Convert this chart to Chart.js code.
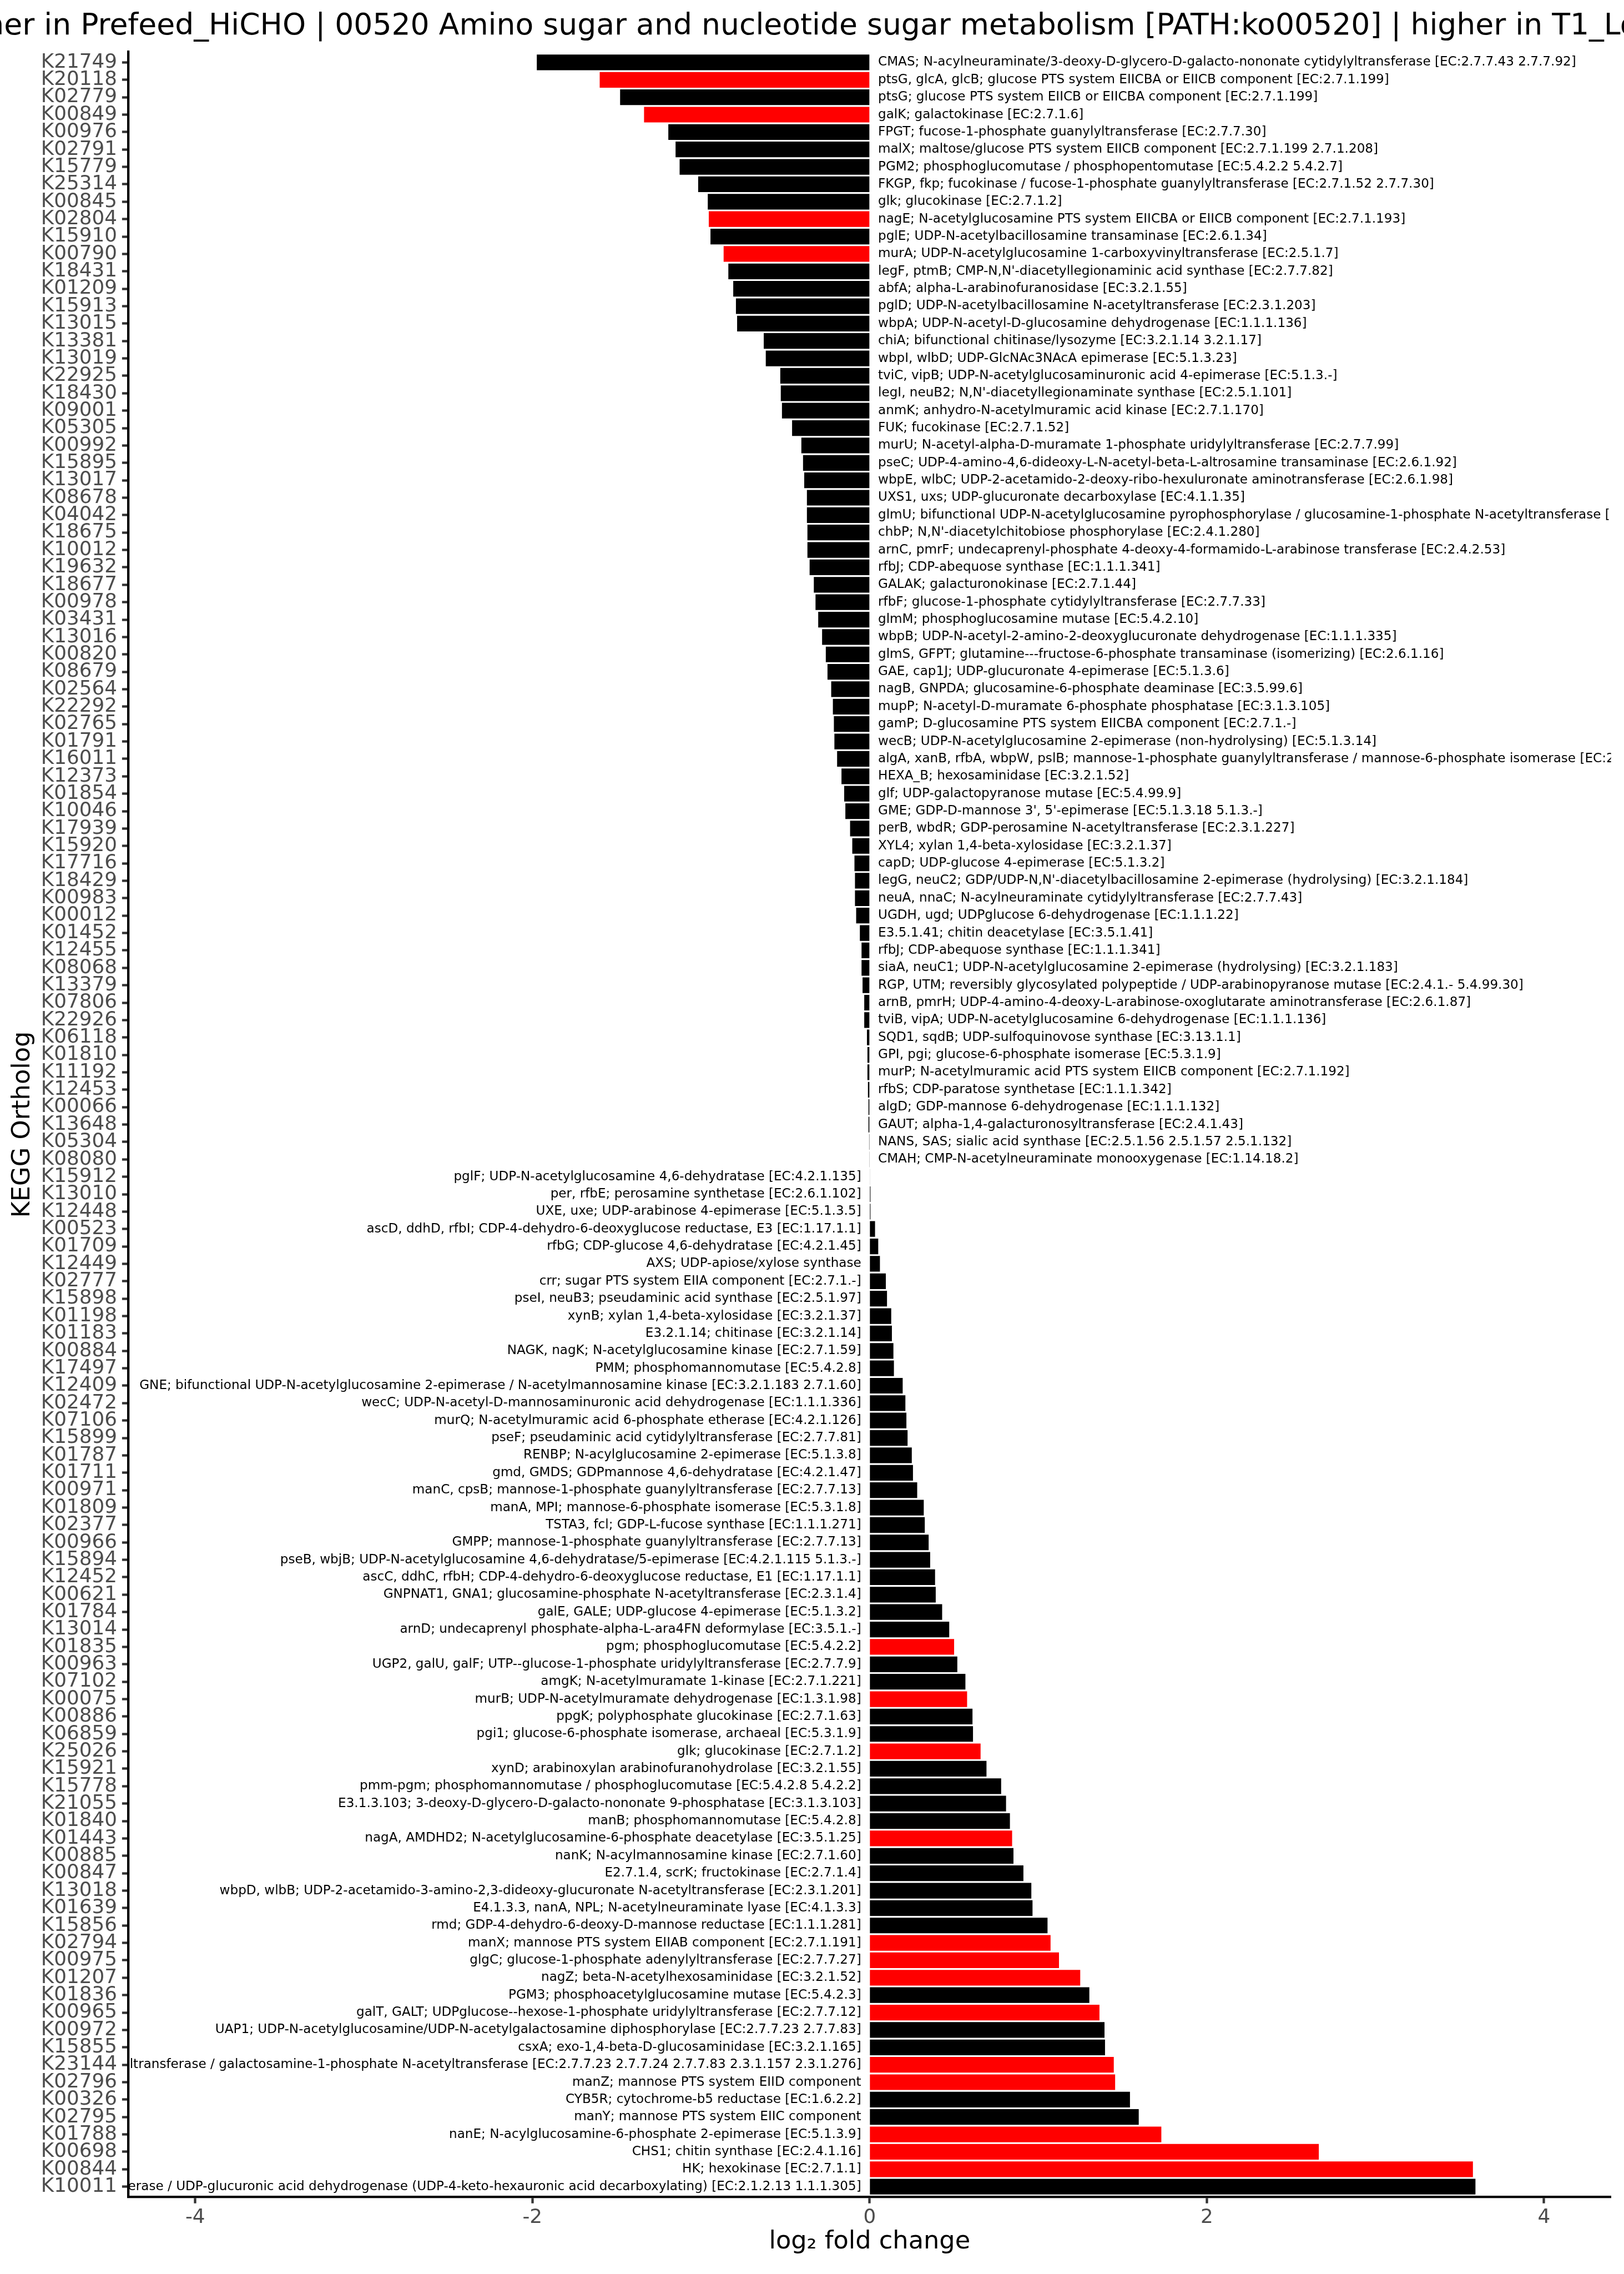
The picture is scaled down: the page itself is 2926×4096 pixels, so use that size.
<!DOCTYPE html>
<html>
<head>
<meta charset="utf-8">
<script src="https://cdn.jsdelivr.net/npm/chart.js@4.4.1/dist/chart.umd.min.js"></script>
<style>
html,body{margin:0;padding:0;background:#ffffff;overflow:hidden}
#wrap{width:2926px;height:4096px;position:relative;background:#ffffff}
</style>
</head>
<body>
<div id="wrap"><canvas id="c" width="2926" height="4096"></canvas></div>
<script>
const titleParts = ["higher in Prefeed_HiCHO ", "| 00520 Amino sugar and nucleotide sugar metabolism [PATH:ko00520] ", "| higher in T1_LoCHO"];
const xAxisTitle = "log\u2082 fold change";
const yAxisTitle = "KEGG Ortholog";
const xTickValues = [-4, -2, 0, 2, 4];

const categories = [
"K21749","K20118","K02779","K00849","K00976","K02791","K15779","K25314","K00845","K02804",
"K15910","K00790","K18431","K01209","K15913","K13015","K13381","K13019","K22925","K18430",
"K09001","K05305","K00992","K15895","K13017","K08678","K04042","K18675","K10012","K19632",
"K18677","K00978","K03431","K13016","K00820","K08679","K02564","K22292","K02765","K01791",
"K16011","K12373","K01854","K10046","K17939","K15920","K17716","K18429","K00983","K00012",
"K01452","K12455","K08068","K13379","K07806","K22926","K06118","K01810","K11192","K12453",
"K00066","K13648","K05304","K08080","K15912","K13010","K12448","K00523","K01709","K12449",
"K02777","K15898","K01198","K01183","K00884","K17497","K12409","K02472","K07106","K15899",
"K01787","K01711","K00971","K01809","K02377","K00966","K15894","K12452","K00621","K01784",
"K13014","K01835","K00963","K07102","K00075","K00886","K06859","K25026","K15921","K15778",
"K21055","K01840","K01443","K00885","K00847","K13018","K01639","K15856","K02794","K00975",
"K01207","K01836","K00965","K00972","K15855","K23144","K02796","K00326","K02795","K01788",
"K00698","K00844","K10011"
];

const log2fc = [
-1.974,-1.601,-1.480,-1.338,-1.194,-1.151,-1.127,-1.017,-0.960,-0.954,
-0.944,-0.866,-0.838,-0.809,-0.793,-0.786,-0.628,-0.616,-0.530,-0.527,
-0.520,-0.460,-0.405,-0.395,-0.388,-0.372,-0.372,-0.369,-0.369,-0.356,
-0.331,-0.321,-0.305,-0.282,-0.260,-0.250,-0.228,-0.218,-0.212,-0.209,
-0.193,-0.167,-0.151,-0.144,-0.116,-0.103,-0.090,-0.087,-0.087,-0.080,
-0.058,-0.048,-0.048,-0.042,-0.032,-0.032,-0.016,-0.013,-0.013,-0.010,
-0.007,-0.007,-0.003,-0.001,0.002,0.005,0.005,0.032,0.051,0.061,
0.096,0.103,0.128,0.132,0.141,0.144,0.196,0.212,0.218,0.225,
0.250,0.257,0.282,0.321,0.327,0.350,0.359,0.388,0.392,0.430,
0.472,0.501,0.520,0.568,0.578,0.610,0.613,0.658,0.693,0.780,
0.809,0.832,0.845,0.853,0.912,0.959,0.966,1.055,1.073,1.123,
1.249,1.303,1.363,1.393,1.396,1.448,1.456,1.544,1.596,1.730,
2.664,3.578,3.593
];

const highlighted = [
"K20118","K00849","K02804","K00790","K01835","K00075","K25026","K01443","K02794",
"K00975","K01207","K00965","K23144","K02796","K01788","K00698","K00844"
];

const descriptions = [
"CMAS; N-acylneuraminate/3-deoxy-D-glycero-D-galacto-nononate cytidylyltransferase [EC:2.7.7.43 2.7.7.92]",
"ptsG, glcA, glcB; glucose PTS system EIICBA or EIICB component [EC:2.7.1.199]",
"ptsG; glucose PTS system EIICB or EIICBA component [EC:2.7.1.199]",
"galK; galactokinase [EC:2.7.1.6]",
"FPGT; fucose-1-phosphate guanylyltransferase [EC:2.7.7.30]",
"malX; maltose/glucose PTS system EIICB component [EC:2.7.1.199 2.7.1.208]",
"PGM2; phosphoglucomutase / phosphopentomutase [EC:5.4.2.2 5.4.2.7]",
"FKGP, fkp; fucokinase / fucose-1-phosphate guanylyltransferase [EC:2.7.1.52 2.7.7.30]",
"glk; glucokinase [EC:2.7.1.2]",
"nagE; N-acetylglucosamine PTS system EIICBA or EIICB component [EC:2.7.1.193]",
"pglE; UDP-N-acetylbacillosamine transaminase [EC:2.6.1.34]",
"murA; UDP-N-acetylglucosamine 1-carboxyvinyltransferase [EC:2.5.1.7]",
"legF, ptmB; CMP-N,N'-diacetyllegionaminic acid synthase [EC:2.7.7.82]",
"abfA; alpha-L-arabinofuranosidase [EC:3.2.1.55]",
"pglD; UDP-N-acetylbacillosamine N-acetyltransferase [EC:2.3.1.203]",
"wbpA; UDP-N-acetyl-D-glucosamine dehydrogenase [EC:1.1.1.136]",
"chiA; bifunctional chitinase/lysozyme [EC:3.2.1.14 3.2.1.17]",
"wbpI, wlbD; UDP-GlcNAc3NAcA epimerase [EC:5.1.3.23]",
"tviC, vipB; UDP-N-acetylglucosaminuronic acid 4-epimerase [EC:5.1.3.-]",
"legI, neuB2; N,N'-diacetyllegionaminate synthase [EC:2.5.1.101]",
"anmK; anhydro-N-acetylmuramic acid kinase [EC:2.7.1.170]",
"FUK; fucokinase [EC:2.7.1.52]",
"murU; N-acetyl-alpha-D-muramate 1-phosphate uridylyltransferase [EC:2.7.7.99]",
"pseC; UDP-4-amino-4,6-dideoxy-L-N-acetyl-beta-L-altrosamine transaminase [EC:2.6.1.92]",
"wbpE, wlbC; UDP-2-acetamido-2-deoxy-ribo-hexuluronate aminotransferase [EC:2.6.1.98]",
"UXS1, uxs; UDP-glucuronate decarboxylase [EC:4.1.1.35]",
"glmU; bifunctional UDP-N-acetylglucosamine pyrophosphorylase / glucosamine-1-phosphate N-acetyltransferase [EC:2.7.7.23 2.3.1.157]",
"chbP; N,N'-diacetylchitobiose phosphorylase [EC:2.4.1.280]",
"arnC, pmrF; undecaprenyl-phosphate 4-deoxy-4-formamido-L-arabinose transferase [EC:2.4.2.53]",
"rfbJ; CDP-abequose synthase [EC:1.1.1.341]",
"GALAK; galacturonokinase [EC:2.7.1.44]",
"rfbF; glucose-1-phosphate cytidylyltransferase [EC:2.7.7.33]",
"glmM; phosphoglucosamine mutase [EC:5.4.2.10]",
"wbpB; UDP-N-acetyl-2-amino-2-deoxyglucuronate dehydrogenase [EC:1.1.1.335]",
"glmS, GFPT; glutamine---fructose-6-phosphate transaminase (isomerizing) [EC:2.6.1.16]",
"GAE, cap1J; UDP-glucuronate 4-epimerase [EC:5.1.3.6]",
"nagB, GNPDA; glucosamine-6-phosphate deaminase [EC:3.5.99.6]",
"mupP; N-acetyl-D-muramate 6-phosphate phosphatase [EC:3.1.3.105]",
"gamP; D-glucosamine PTS system EIICBA component [EC:2.7.1.-]",
"wecB; UDP-N-acetylglucosamine 2-epimerase (non-hydrolysing) [EC:5.1.3.14]",
"algA, xanB, rfbA, wbpW, pslB; mannose-1-phosphate guanylyltransferase / mannose-6-phosphate isomerase [EC:2.7.7.13 5.3.1.8]",
"HEXA_B; hexosaminidase [EC:3.2.1.52]",
"glf; UDP-galactopyranose mutase [EC:5.4.99.9]",
"GME; GDP-D-mannose 3', 5'-epimerase [EC:5.1.3.18 5.1.3.-]",
"perB, wbdR; GDP-perosamine N-acetyltransferase [EC:2.3.1.227]",
"XYL4; xylan 1,4-beta-xylosidase [EC:3.2.1.37]",
"capD; UDP-glucose 4-epimerase [EC:5.1.3.2]",
"legG, neuC2; GDP/UDP-N,N'-diacetylbacillosamine 2-epimerase (hydrolysing) [EC:3.2.1.184]",
"neuA, nnaC; N-acylneuraminate cytidylyltransferase [EC:2.7.7.43]",
"UGDH, ugd; UDPglucose 6-dehydrogenase [EC:1.1.1.22]",
"E3.5.1.41; chitin deacetylase [EC:3.5.1.41]",
"rfbJ; CDP-abequose synthase [EC:1.1.1.341]",
"siaA, neuC1; UDP-N-acetylglucosamine 2-epimerase (hydrolysing) [EC:3.2.1.183]",
"RGP, UTM; reversibly glycosylated polypeptide / UDP-arabinopyranose mutase [EC:2.4.1.- 5.4.99.30]",
"arnB, pmrH; UDP-4-amino-4-deoxy-L-arabinose-oxoglutarate aminotransferase [EC:2.6.1.87]",
"tviB, vipA; UDP-N-acetylglucosamine 6-dehydrogenase [EC:1.1.1.136]",
"SQD1, sqdB; UDP-sulfoquinovose synthase [EC:3.13.1.1]",
"GPI, pgi; glucose-6-phosphate isomerase [EC:5.3.1.9]",
"murP; N-acetylmuramic acid PTS system EIICB component [EC:2.7.1.192]",
"rfbS; CDP-paratose synthetase [EC:1.1.1.342]",
"algD; GDP-mannose 6-dehydrogenase [EC:1.1.1.132]",
"GAUT; alpha-1,4-galacturonosyltransferase [EC:2.4.1.43]",
"NANS, SAS; sialic acid synthase [EC:2.5.1.56 2.5.1.57 2.5.1.132]",
"CMAH; CMP-N-acetylneuraminate monooxygenase [EC:1.14.18.2]",
"pglF; UDP-N-acetylglucosamine 4,6-dehydratase [EC:4.2.1.135]",
"per, rfbE; perosamine synthetase [EC:2.6.1.102]",
"UXE, uxe; UDP-arabinose 4-epimerase [EC:5.1.3.5]",
"ascD, ddhD, rfbI; CDP-4-dehydro-6-deoxyglucose reductase, E3 [EC:1.17.1.1]",
"rfbG; CDP-glucose 4,6-dehydratase [EC:4.2.1.45]",
"AXS; UDP-apiose/xylose synthase",
"crr; sugar PTS system EIIA component [EC:2.7.1.-]",
"pseI, neuB3; pseudaminic acid synthase [EC:2.5.1.97]",
"xynB; xylan 1,4-beta-xylosidase [EC:3.2.1.37]",
"E3.2.1.14; chitinase [EC:3.2.1.14]",
"NAGK, nagK; N-acetylglucosamine kinase [EC:2.7.1.59]",
"PMM; phosphomannomutase [EC:5.4.2.8]",
"GNE; bifunctional UDP-N-acetylglucosamine 2-epimerase / N-acetylmannosamine kinase [EC:3.2.1.183 2.7.1.60]",
"wecC; UDP-N-acetyl-D-mannosaminuronic acid dehydrogenase [EC:1.1.1.336]",
"murQ; N-acetylmuramic acid 6-phosphate etherase [EC:4.2.1.126]",
"pseF; pseudaminic acid cytidylyltransferase [EC:2.7.7.81]",
"RENBP; N-acylglucosamine 2-epimerase [EC:5.1.3.8]",
"gmd, GMDS; GDPmannose 4,6-dehydratase [EC:4.2.1.47]",
"manC, cpsB; mannose-1-phosphate guanylyltransferase [EC:2.7.7.13]",
"manA, MPI; mannose-6-phosphate isomerase [EC:5.3.1.8]",
"TSTA3, fcl; GDP-L-fucose synthase [EC:1.1.1.271]",
"GMPP; mannose-1-phosphate guanylyltransferase [EC:2.7.7.13]",
"pseB, wbjB; UDP-N-acetylglucosamine 4,6-dehydratase/5-epimerase [EC:4.2.1.115 5.1.3.-]",
"ascC, ddhC, rfbH; CDP-4-dehydro-6-deoxyglucose reductase, E1 [EC:1.17.1.1]",
"GNPNAT1, GNA1; glucosamine-phosphate N-acetyltransferase [EC:2.3.1.4]",
"galE, GALE; UDP-glucose 4-epimerase [EC:5.1.3.2]",
"arnD; undecaprenyl phosphate-alpha-L-ara4FN deformylase [EC:3.5.1.-]",
"pgm; phosphoglucomutase [EC:5.4.2.2]",
"UGP2, galU, galF; UTP--glucose-1-phosphate uridylyltransferase [EC:2.7.7.9]",
"amgK; N-acetylmuramate 1-kinase [EC:2.7.1.221]",
"murB; UDP-N-acetylmuramate dehydrogenase [EC:1.3.1.98]",
"ppgK; polyphosphate glucokinase [EC:2.7.1.63]",
"pgi1; glucose-6-phosphate isomerase, archaeal [EC:5.3.1.9]",
"glk; glucokinase [EC:2.7.1.2]",
"xynD; arabinoxylan arabinofuranohydrolase [EC:3.2.1.55]",
"pmm-pgm; phosphomannomutase / phosphoglucomutase [EC:5.4.2.8 5.4.2.2]",
"E3.1.3.103; 3-deoxy-D-glycero-D-galacto-nononate 9-phosphatase [EC:3.1.3.103]",
"manB; phosphomannomutase [EC:5.4.2.8]",
"nagA, AMDHD2; N-acetylglucosamine-6-phosphate deacetylase [EC:3.5.1.25]",
"nanK; N-acylmannosamine kinase [EC:2.7.1.60]",
"E2.7.1.4, scrK; fructokinase [EC:2.7.1.4]",
"wbpD, wlbB; UDP-2-acetamido-3-amino-2,3-dideoxy-glucuronate N-acetyltransferase [EC:2.3.1.201]",
"E4.1.3.3, nanA, NPL; N-acetylneuraminate lyase [EC:4.1.3.3]",
"rmd; GDP-4-dehydro-6-deoxy-D-mannose reductase [EC:1.1.1.281]",
"manX; mannose PTS system EIIAB component [EC:2.7.1.191]",
"glgC; glucose-1-phosphate adenylyltransferase [EC:2.7.7.27]",
"nagZ; beta-N-acetylhexosaminidase [EC:3.2.1.52]",
"PGM3; phosphoacetylglucosamine mutase [EC:5.4.2.3]",
"galT, GALT; UDPglucose--hexose-1-phosphate uridylyltransferase [EC:2.7.7.12]",
"UAP1; UDP-N-acetylglucosamine/UDP-N-acetylgalactosamine diphosphorylase [EC:2.7.7.23 2.7.7.83]",
"csxA; exo-1,4-beta-D-glucosaminidase [EC:3.2.1.165]",
"UAP; UDP-N-acetylglucosamine/UDP-N-acetylgalactosamine/UDP-glucose diphosphorylase / glucosamine-1-phosphate N-acetyltransferase / galactosamine-1-phosphate N-acetyltransferase [EC:2.7.7.23 2.7.7.24 2.7.7.83 2.3.1.157 2.3.1.276]",
"manZ; mannose PTS system EIID component",
"CYB5R; cytochrome-b5 reductase [EC:1.6.2.2]",
"manY; mannose PTS system EIIC component",
"nanE; N-acylglucosamine-6-phosphate 2-epimerase [EC:5.1.3.9]",
"CHS1; chitin synthase [EC:2.4.1.16]",
"HK; hexokinase [EC:2.7.1.1]",
"arnA, pmrI; UDP-4-amino-4-deoxy-L-arabinose formyltransferase / UDP-glucuronic acid dehydrogenase (UDP-4-keto-hexauronic acid decarboxylating) [EC:2.1.2.13 1.1.1.305]"
];

const FONT = "'DejaVu Sans', 'Liberation Sans', sans-serif";
const labelNudge = 0.05;

const descriptionLabels = {
  id: 'descriptionLabels',
  afterDatasetsDraw(chart) {
    const {ctx, chartArea, scales} = chart;
    const xs = scales.x, ys = scales.y;
    ctx.save();
    ctx.beginPath();
    ctx.rect(chartArea.left, chartArea.top, chartArea.right - chartArea.left, chartArea.bottom - chartArea.top);
    ctx.clip();
    ctx.font = "23.1px " + FONT;
    ctx.fillStyle = '#000000';
    ctx.textBaseline = 'middle';
    log2fc.forEach((v, i) => {
      const py = ys.getPixelForValue(i);
      if (v < 0) {
        ctx.textAlign = 'left';
        ctx.fillText(descriptions[i], xs.getPixelForValue(labelNudge), py);
      } else {
        ctx.textAlign = 'right';
        ctx.fillText(descriptions[i], xs.getPixelForValue(-labelNudge), py);
      }
    });
    ctx.restore();
  }
};

// Title: positioned so that its two "|" separators sit where the reference has them
const titleBar1X = 577.2, titleBar2X = 2515.5, titleBaseline = 61.7;
const pageTitle = {
  id: 'pageTitle',
  afterDraw(chart) {
    const ctx = chart.ctx;
    const text = titleParts.join('');
    ctx.save();
    const ref = 100;
    ctx.font = ref + "px " + FONT;
    const w0 = ctx.measureText(titleParts[0]).width;
    const w1 = ctx.measureText(titleParts[0] + titleParts[1]).width;
    const wb = ctx.measureText('|').width;
    let size = ref * (titleBar2X - titleBar1X) / (w1 - w0);
    size = Math.max(48, Math.min(60, size));
    const k = size / ref;
    const startX = titleBar1X - (w0 + wb / 2) * k;
    ctx.font = size.toFixed(2) + "px " + FONT;
    ctx.fillStyle = '#000000';
    ctx.textAlign = 'left';
    ctx.textBaseline = 'alphabetic';
    ctx.fillText(text, startX, titleBaseline);
    ctx.restore();
  }
};

const axisGrid = {display: true, offset: false, drawOnChartArea: false, drawTicks: true, tickLength: 11.2, tickWidth: 4.3, tickColor: '#333333'};
const axisBorder = {display: true, color: '#000000', width: 4.3};

new Chart(document.getElementById('c').getContext('2d'), {
  type: 'bar',
  data: {
    datasets: [{
      data: log2fc.map((v, i) => ({x: v, y: i})),
      backgroundColor: categories.map(k => highlighted.includes(k) ? '#FF0000' : '#000000'),
      borderWidth: 0,
      barPercentage: 0.9,
      categoryPercentage: 1.0
    }]
  },
  options: {
    indexAxis: 'y',
    responsive: false,
    animation: false,
    devicePixelRatio: 1,
    layout: {padding: {top: 93.6, right: 23.4, left: 0, bottom: 0}},
    plugins: {legend: {display: false}, tooltip: {enabled: false}, title: {display: false}},
    scales: {
      x: {
        type: 'linear',
        position: 'bottom',
        offset: false,
        min: -4.397,
        max: 4.397,
        afterBuildTicks: s => { s.ticks = xTickValues.map(v => ({value: v})); },
        afterFit: s => { s.height = 138.5; },
        grid: axisGrid,
        border: axisBorder,
        ticks: {
          autoSkip: false, maxRotation: 0, padding: 4.5,
          color: '#4D4D4D', font: {family: FONT, size: 35.75},
          callback: v => String(v)
        },
        title: {
          display: true, text: xAxisTitle, color: '#000000',
          font: {family: FONT, size: 44.7, lineHeight: 1},
          padding: {top: 0, bottom: 34.9}
        }
      },
      y: {
        type: 'linear',
        position: 'left',
        reverse: true,
        offset: false,
        min: -0.6,
        max: categories.length - 0.4,
        afterBuildTicks: s => { s.ticks = categories.map((_, i) => ({value: i})); },
        afterFit: s => { s.width = 231.1; },
        grid: axisGrid,
        border: axisBorder,
        ticks: {
          autoSkip: false, padding: 8.9,
          color: '#4D4D4D', font: {family: FONT, size: 35.75},
          callback: v => categories[v]
        },
        title: {
          display: true, text: yAxisTitle, color: '#000000',
          font: {family: FONT, size: 44.7, lineHeight: 1},
          padding: {top: 19.5, bottom: 0}
        }
      }
    }
  },
  plugins: [descriptionLabels, pageTitle]
});
</script>
</body>
</html>
